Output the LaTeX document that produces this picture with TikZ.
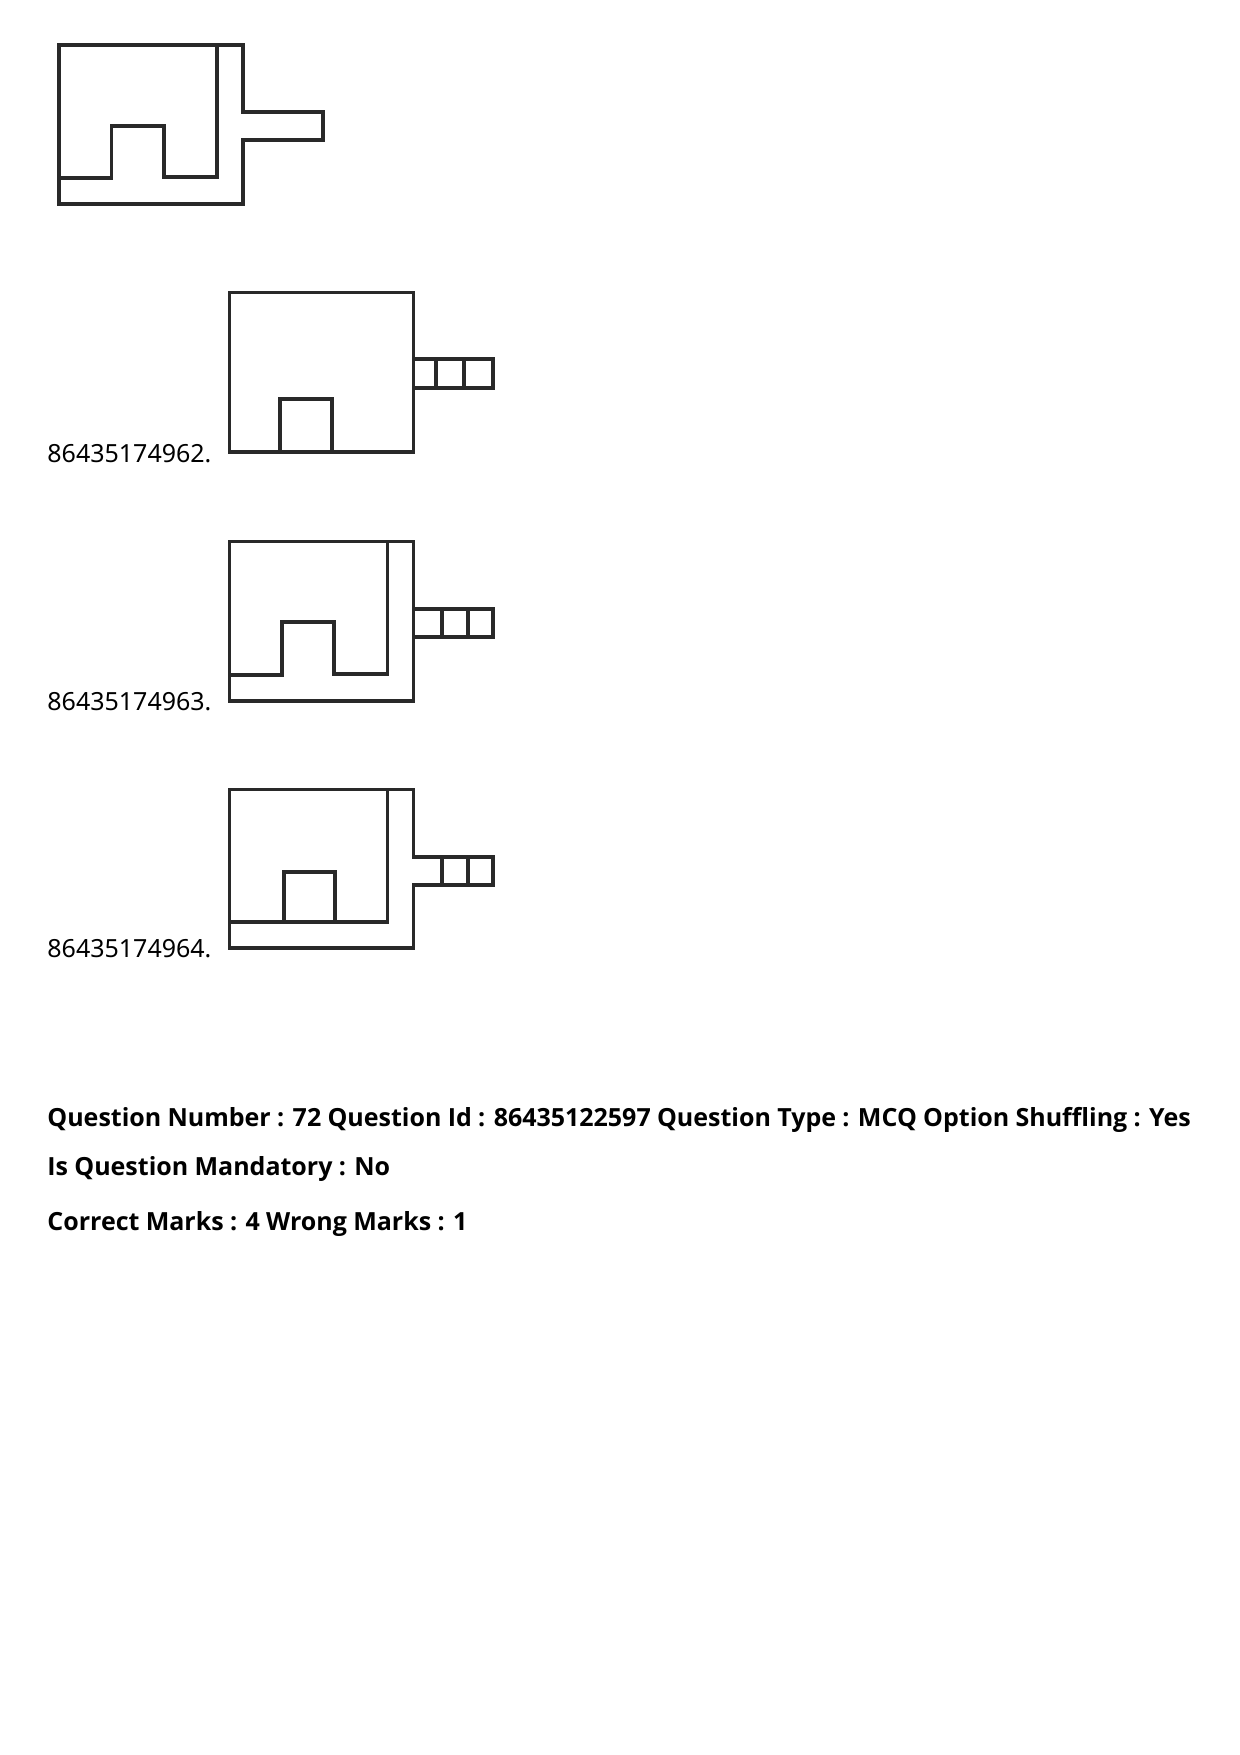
\documentclass[tikz,border=0pt]{standalone}
\usepackage{xcolor}
\usepackage{fontspec}
\setmainfont{Noto Sans}
\newfontfamily\headfont{Open Sans}[WordSpace=0.97]
\usepackage{tikz}
\usetikzlibrary{positioning}

\definecolor{figink}{gray}{0.16}
\tikzset{
    figline/.style={draw=figink, line width=1.55pt},
    optlabel/.style={anchor=base west, inner sep=0pt, font=\fontsize{12}{14}\selectfont, text=black},
    headline/.style={anchor=base west, inner sep=0pt, font=\fontsize{12}{14}\selectfont\headfont\bfseries, text=black}
}

\begin{document}
\begin{tikzpicture}[x=0.48pt, y=-0.48pt]
        \useasboundingbox (0,0) rectangle (1240,1755);

        % question figure
        \draw[figline] (59,204) -- (59,45) -- (243,45) -- (243,112) -- (323,112) -- (323,140) -- (243,140) -- (243,204) -- cycle;
        \draw[figline] (217,45) -- (217,177) -- (164,177) -- (164,126) -- (111.5,126) -- (111.5,178) -- (59,178);

        % option 1
        \draw[figline] (229.5,292.5) rectangle (413.5,452);
        \draw[figline] (413.5,359) -- (493,359) -- (493,388) -- (413.5,388);
        \foreach \x in {436, 464}
        \draw[figline] (\x,359) -- (\x,388);
        \draw[figline] (280,452) -- (280,399) -- (332,399) -- (332,452);
        \node[optlabel] (optone) at (47,462) {86435174962.};

        % option 2
        \draw[figline] (229.5,541.5) rectangle (413.5,701);
        \draw[figline] (413.5,609) -- (493,609) -- (493,637) -- (413.5,637);
        \foreach \x in {442, 468}
        \draw[figline] (\x,609) -- (\x,637);
        \draw[figline] (387.5,541.5) -- (387.5,674) -- (334,674) -- (334,622) -- (282,622) -- (282,675) -- (229.5,675);
        \node[optlabel] (opttwo) at (47,710) {86435174963.};

        % option 3
        \draw[figline] (229.5,948) -- (229.5,789.5) -- (413.5,789.5) -- (413.5,857) -- (493,857) -- (493,885) -- (413.5,885) -- (413.5,948) -- cycle;
        \foreach \x in {442, 468}
        \draw[figline] (\x,857) -- (\x,885);
        \draw[figline] (387.5,789.5) -- (387.5,922) -- (229.5,922);
        \draw[figline] (284,922) -- (284,872) -- (335,872) -- (335,922);
        \node[optlabel] (optthree) at (47,957) {86435174964.};

        \node[headline] (qline) at (47,1126) {Question Number : 72 Question Id : 86435122597 Question Type : MCQ Option Shuffling : Yes};
        \node[headline] (mandline) at (47,1175.5) {Is Question Mandatory : No};
        \node[headline] (marksline) at (47,1230) {Correct Marks : 4 Wrong Marks : 1};
\end{tikzpicture}
\end{document}
